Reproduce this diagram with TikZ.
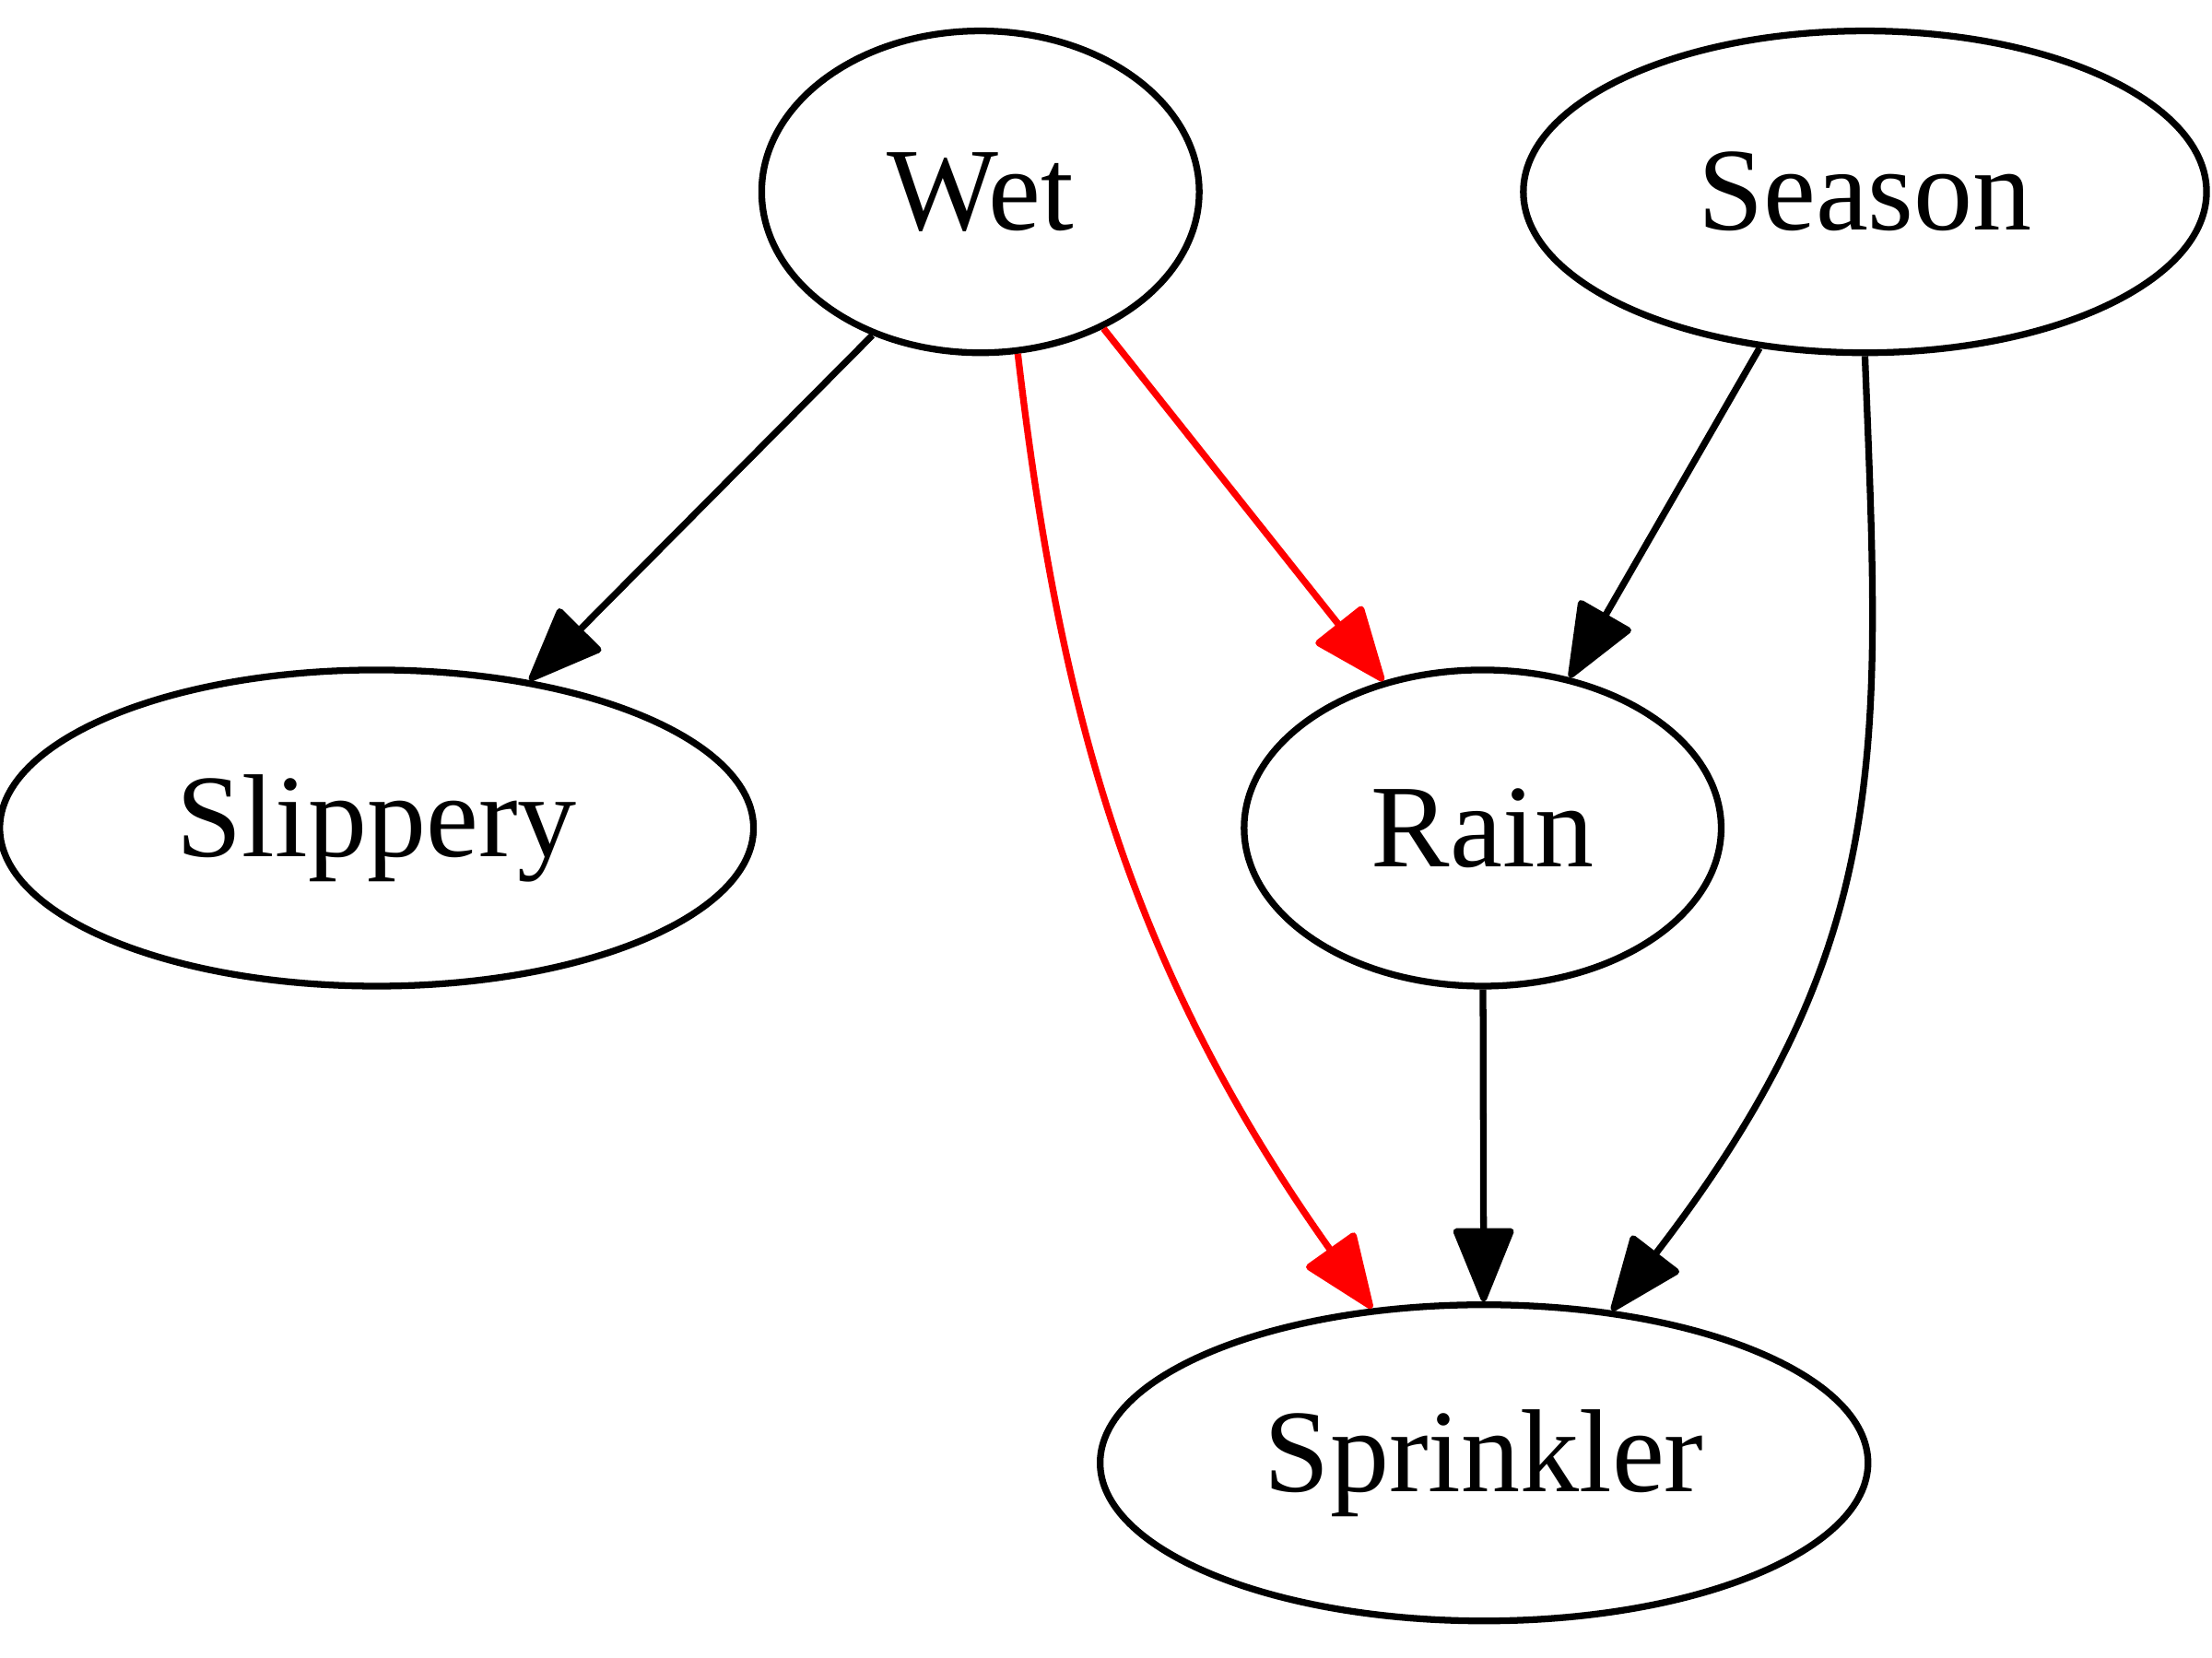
\documentclass[tikz,border=0pt]{standalone}
\usepackage{fontspec}
\setmainfont{Liberation Serif}
\usetikzlibrary{shapes.geometric,arrows.meta}
\tikzset{
  >={Triangle[length=5.6mm,width=4.4mm,round]},
  gnode/.style={ellipse,draw,line width=1.35pt,inner sep=0pt,
                font=\fontsize{23.8}{28}\selectfont},
  gedge/.style={->,line width=1.35pt},
  redge/.style={gedge,red},
}
\begin{document}
\begin{tikzpicture}[x=0.01cm,y=0.01cm]
  \useasboundingbox (0,0) rectangle (1568,1175);
  % nodes
  \node[gnode,minimum width=3.1cm,minimum height=2.28cm] (wet) at (695,1039) {Wet};
  \node[gnode,minimum width=4.84cm,minimum height=2.28cm] (season) at (1322,1039) {Season};
  \node[gnode,minimum width=5.34cm,minimum height=2.24cm] (slippery) at (267,588) {Slippery};
  \node[gnode,minimum width=3.38cm,minimum height=2.24cm] (rain) at (1051,588) {Rain};
  \node[gnode,minimum width=5.44cm,minimum height=2.24cm] (sprinkler) at (1052,138) {Sprinkler};
  % edges
  \draw[gedge] (wet.233) -- (slippery.44);
  \draw[redge] (wet.312) -- (rain.124);
  \draw[redge] (wet.283) .. controls +(29,-248) and +(-174,245) .. (sprinkler.126.6);
  \draw[gedge] (season.236) -- (rain.60);
  \draw[gedge] (season.270) .. controls +(11,-280) and +(201,261) .. (sprinkler.50);
  \draw[gedge] (rain) -- (sprinkler);
\end{tikzpicture}
\end{document}
